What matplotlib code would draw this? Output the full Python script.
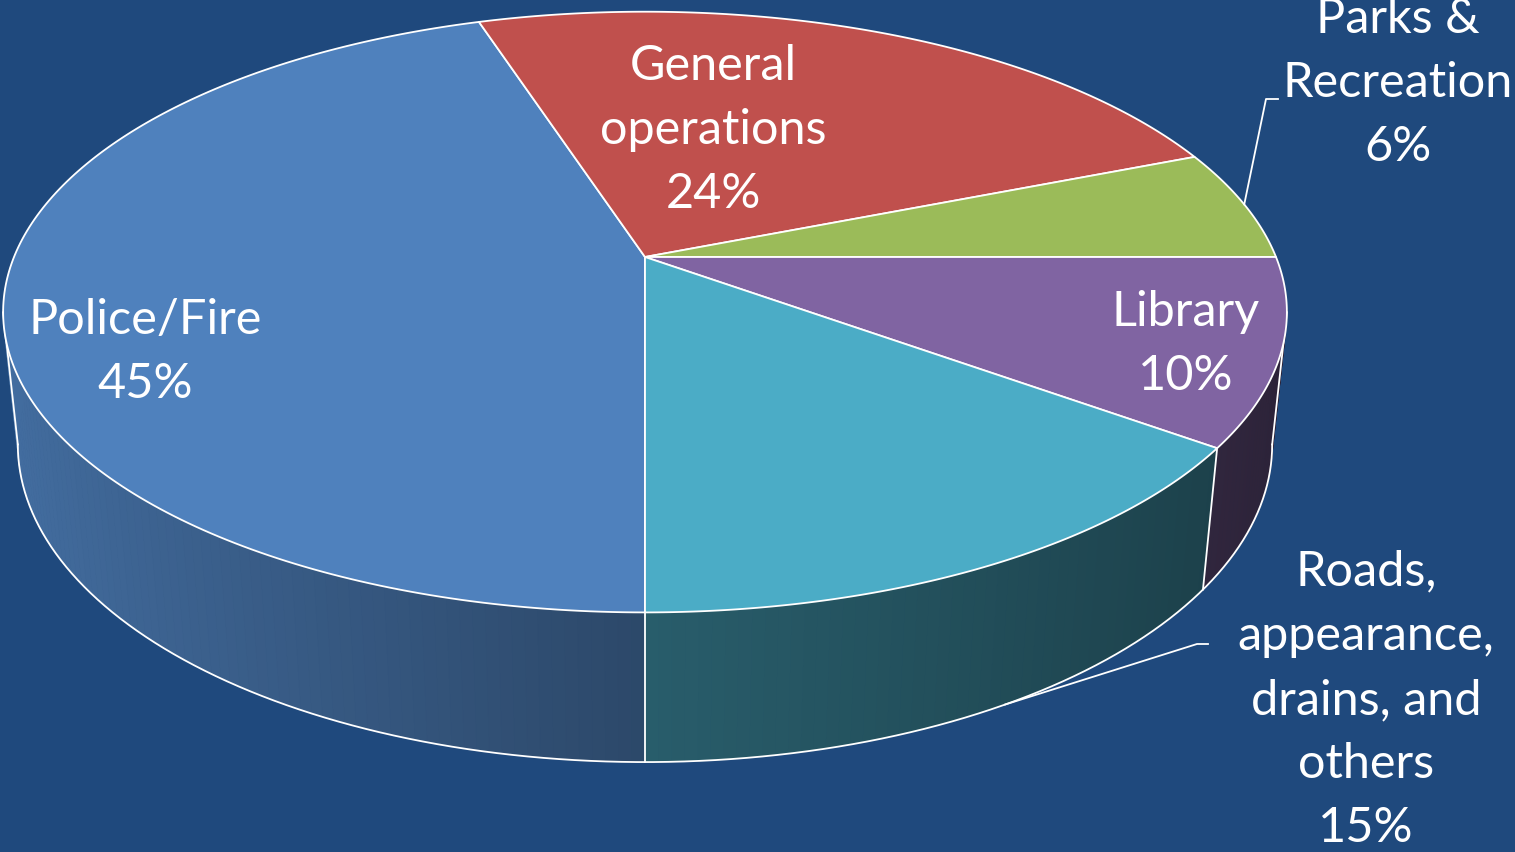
import numpy as np
import matplotlib
matplotlib.use("Agg")
import matplotlib.pyplot as plt
from matplotlib.patches import Polygon

# ---- data ----
categories = ["Police/Fire", "General\noperations", "Parks &\nRecreation", "Library",
              "Roads,\nappearance,\ndrains, and\nothers"]
values = [45, 24, 6, 10, 15]
colors = ["#4F81BD", "#C0504D", "#9BBB59", "#8064A2", "#4BACC6"]
label_pos = [(145, 352), (713, 130), (1398, 83), (1186, 344), (1366, 700)]

BG = "#1F497D"
W, H = 1515, 852

# ---- 3D projection (pixel coordinates) ----
alpha = np.arcsin(0.46)
sa, ca = np.sin(alpha), np.cos(alpha)
D = ca / 0.1833
F = 631 * D
THICK = 0.2386
CX, CY = 645, 257


def proj(theta_deg, z=0.0, r=1.0):
    t = np.radians(theta_deg)
    X = r * np.sin(t)
    Y = -r * np.cos(t)
    up = -Y * sa + z * ca
    depth = D - (Y * ca + z * sa)
    return CX + F * X / depth, CY - F * up / depth


fig = plt.figure(figsize=(W / 100, H / 100), dpi=100, facecolor=BG)
ax = fig.add_axes([0, 0, 1, 1])
ax.set_xlim(0, W)
ax.set_ylim(H, 0)
ax.axis("off")
ax.set_facecolor(BG)

total = float(sum(values))
start = 180.0
bounds = []
a = start
for v in values:
    bounds.append((a, a + v / total * 360.0))
    a += v / total * 360.0


def shade(theta):
    s = np.sin(np.radians(theta))
    return 0.56 + 0.30 * (-s) if s < 0 else 0.54 - 0.2 * s


# side segments
segs = []
for (a0, a1), c in zip(bounds, colors):
    n = max(2, int(np.ceil((a1 - a0) / 1.0)))
    th = np.linspace(a0, a1, n + 1)
    base = np.array(matplotlib.colors.to_rgb(c))
    for t0, t1 in zip(th[:-1], th[1:]):
        tm = 0.5 * (t0 + t1)
        Ym = -np.cos(np.radians(tm))
        pts = [proj(t0), proj(t1), proj(t1, -THICK), proj(t0, -THICK)]
        col = np.clip(base * shade(tm), 0, 1)
        segs.append((Ym, pts, col))
segs.sort(key=lambda s: s[0])
for _, pts, col in segs:
    ax.add_patch(Polygon(pts, closed=True, facecolor=col, edgecolor=col,
                         linewidth=0.6, zorder=1))

# outlines of the side
th = np.linspace(0, 360, 3601)
tx, ty = proj(th)
bx, by = proj(th, -THICK)
il, ir = np.argmin(tx), np.argmax(tx)
jl, jr = np.argmin(bx), np.argmax(bx)
tl, tr = th[jl], th[jr]
bt = np.linspace(tr, tl, 400)
bxx, byy = proj(bt, -THICK)
ax.plot(bxx, byy, color="white", lw=1.3, zorder=2)
ax.plot([tx[il], bx[jl]], [ty[il], by[jl]], color="white", lw=1.3, zorder=2)
ax.plot([tx[ir], bx[jr]], [ty[ir], by[jr]], color="white", lw=1.3, zorder=2)
for a0, _ in bounds:
    aa = a0 % 360
    if tr < aa < tl:
        x0, y0 = proj(aa)
        x1, y1 = proj(aa, -THICK)
        ax.plot([x0, x1], [y0, y1], color="white", lw=1.3, zorder=2)

# top faces
for (a0, a1), c in zip(bounds, colors):
    t = np.linspace(a0, a1, 200)
    xs, ys = proj(t)
    pts = [(CX, CY)] + list(zip(xs, ys))
    ax.add_patch(Polygon(pts, closed=True, facecolor=c, edgecolor="white",
                         linewidth=1.3, joinstyle="round", zorder=3))

# labels
font = dict(family=["Lato", "DejaVu Sans"], fontsize=35, color="white",
            ha="center", va="center", linespacing=1.56, zorder=5)
for cat, v, (lx, ly) in zip(categories, values, label_pos):
    ax.text(lx, ly, f"{cat}\n{v}%", **font)

# leader lines
mids = [0.5 * (a0 + a1) for a0, a1 in bounds]
px, py = proj(mids[2])
ax.plot([px, 1266, 1278], [py, 99, 99], color="white", lw=1.3, zorder=4)
px, py = proj(mids[4] - 2.5, -THICK)
ax.plot([px, 1197, 1208], [py, 644, 644], color="white", lw=1.3, zorder=4)

fig.savefig("out.png", dpi=100, facecolor=BG)
